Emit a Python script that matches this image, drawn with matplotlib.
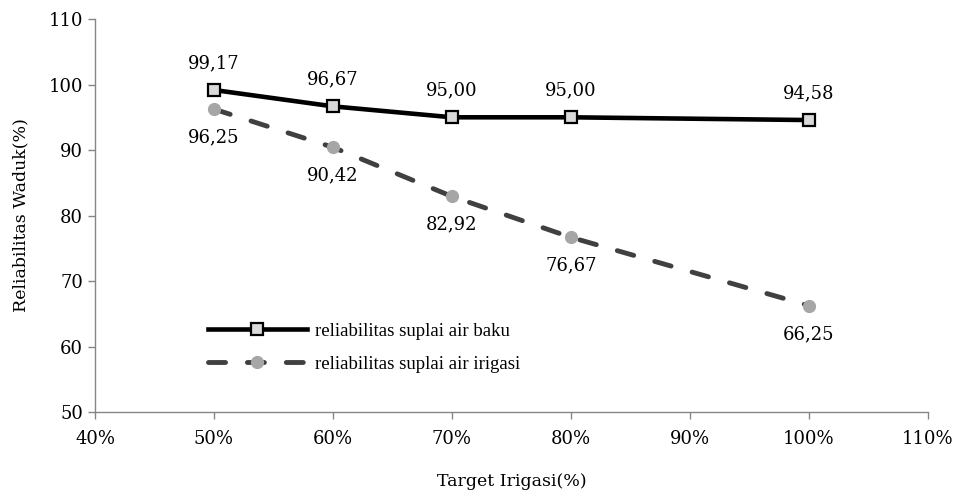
import matplotlib.pyplot as plt
from matplotlib.ticker import FuncFormatter, MultipleLocator

target = [0.5, 0.6, 0.7, 0.8, 1.0]
baku = [99.17, 96.67, 95.00, 95.00, 94.58]
irigasi = [96.25, 90.42, 82.92, 76.67, 66.25]


def fmt_id(v):
    return f"{v:.2f}".replace(".", ",")


plt.rcParams["font.family"] = ["DejaVu Serif"]
fig = plt.figure(figsize=(9.55, 4.98), dpi=100)
ax = fig.add_axes([0.0995, 0.1727, 0.872, 0.789])

ax.plot(target, baku, color="black", lw=3.3, marker="s", ms=9,
        mfc="#d9d9d9", mec="black", mew=1.6, zorder=3,
        label="reliabilitas suplai air baku")
ax.plot(target, irigasi, color="#404040", lw=3.5, ls=(0, (3.5, 4.5)),
        dash_capstyle="round", marker="o", ms=8.5,
        mfc="#a6a6a6", mec="#a6a6a6", mew=1, zorder=3,
        label="reliabilitas suplai air irigasi")

for x, y in zip(target, baku):
    ax.annotate(fmt_id(y), (x, y), xytext=(0, 13), textcoords="offset points",
                ha="center", va="bottom", fontsize=13)
for x, y in zip(target, irigasi):
    ax.annotate(fmt_id(y), (x, y), xytext=(0, -14), textcoords="offset points",
                ha="center", va="top", fontsize=13)

ax.set_xlim(0.4, 1.1)
ax.set_ylim(50, 110)
ax.xaxis.set_major_locator(MultipleLocator(0.1))
ax.yaxis.set_major_locator(MultipleLocator(10))
ax.xaxis.set_major_formatter(FuncFormatter(lambda v, p: f"{round(v * 100)}%"))

for s in ["top", "right"]:
    ax.spines[s].set_visible(False)
for s in ["left", "bottom"]:
    ax.spines[s].set_color("#868686")
    ax.spines[s].set_linewidth(1)
ax.tick_params(axis="both", colors="#868686", labelcolor="black", labelsize=13,
               length=5, width=1)
ax.tick_params(axis="x", pad=8)

ax.set_ylabel("Reliabilitas Waduk(%)", fontsize=12.5, labelpad=14)
ax.set_xlabel("Target Irigasi(%)", fontsize=12.5, labelpad=18)

ax.legend(loc="upper left", bbox_to_anchor=(0.115, 0.27), frameon=False,
          prop={"family": "Liberation Serif", "size": 13.5}, handlelength=5.3,
          handletextpad=0.4, labelspacing=0.85)

fig.savefig("out.png", dpi=100)
